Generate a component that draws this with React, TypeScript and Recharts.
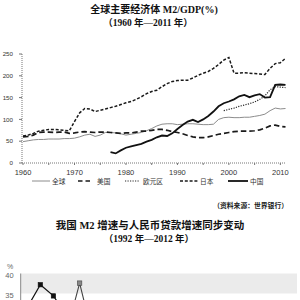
import React from "react";
import { LineChart, Line, XAxis, YAxis, ReferenceArea } from "recharts";

// 全球主要经济体 M2/GDP(%)，1960—2011
const startYear = 1960;
const globalM2 = [
  49, 51, 53, 54, 54, 55, 55, 55, 56, 56,
  57, 60, 64, 66, 61, 64, 70, 70, 69, 67,
  64, 66, 68, 70, 74, 79, 85, 89, 90, 90,
  88, 89, 90, 90, 89, 88, 88, 89, 100, 104,
  105, 104, 104, 105, 105, 107, 109, 112, 120, 126,
  124, 125,
];
const usM2 = [
  60, 61, 64, 70, 71, 71, 70, 71, 71, 68,
  69, 71, 72, 71, 70, 71, 71, 70, 69, 68,
  69, 69, 71, 73, 73, 75, 77, 77, 75, 72,
  70, 67, 63, 60, 58, 58, 60, 63, 66, 68,
  70, 72, 73, 73, 73, 74, 76, 80, 85, 87,
  84, 83,
];
const euroM2 = [
  null, null, null, null, null, null, null, null, null, null,
  null, null, null, null, null, null, null, null, null, null,
  null, null, null, null, null, null, null, null, null, null,
  null, null, null, null, null, null, null, null, null, 120,
  123, 126, 130, 133, 136, 140, 146, 154, 168, 175,
  174, 173,
];
const japanM2 = [
  62, 64, 68, 73, 75, 77, 77, 76, 75, 74,
  95, 115, 125, 124, 118, 121, 124, 127, 130, 134,
  138, 141, 146, 152, 159, 164, 167, 175, 182, 187,
  189, 190, 190, 195, 201, 206, 210, 217, 226, 236,
  242, 206, 206, 207, 206, 205, 204, 203, 217, 228,
  230, 240,
];
const chinaM2 = [
  null, null, null, null, null, null, null, null, null, null,
  null, null, null, null, null, null, null, 25, 22, 29,
  35, 38, 41, 44, 49, 53, 59, 63, 62, 68,
  78, 87, 95, 99, 94, 100, 108, 118, 130, 137,
  141, 146, 153, 156, 151, 155, 158, 150, 151, 179,
  180, 179,
];
const mainYTicks = [0, 50, 100, 150, 200, 250];
const mainXTicks = [1960, 1965, 1970, 1975, 1980, 1985, 1990, 1995, 2000, 2005, 2010];

// 我国 M2 增速与人民币贷款增速，1992—2012
const growthYears = [
  1992, 1993, 1994, 1995, 1996, 1997, 1998, 1999, 2000, 2001, 2002,
  2003, 2004, 2005, 2006, 2007, 2008, 2009, 2010, 2011, 2012,
];
const m2Growth = [
  31.5, 37.2, 34.4, 29.5, 25.3, 17.3, 15.3, 14.7, 12.3, 17.6, 16.8,
  19.6, 14.6, 17.6, 16.9, 16.7, 17.8, 27.7, 19.7, 13.6, 13.8,
];
const loanGrowth = [
  20.4, 22.5, 21.0, 25.2, 37.6, 24.3, 15.5, 13.4, 13.4, 11.6, 16.9,
  21.1, 14.4, 13.0, 15.1, 16.1, 18.8, 31.7, 19.9, 15.8, 15.0,
];
// only the top of this chart is in frame
const growthYTicks = [35, 40];

const series = [
  { key: "global", name: "全球", stroke: "#8c8c8c", width: 1, dash: undefined },
  { key: "us", name: "美国", stroke: "#1a1a1a", width: 1.7, dash: "5.5 3" },
  { key: "euro", name: "欧元区", stroke: "#2a2a2a", width: 1.2, dash: "1.2 1.3" },
  { key: "japan", name: "日本", stroke: "#1a1a1a", width: 1.5, dash: "3 1.8" },
  { key: "china", name: "中国", stroke: "#111", width: 1.8, dash: undefined },
];

const mainRows = globalM2.map((v, i) => ({
  year: startYear + i,
  global: v,
  us: usM2[i],
  euro: euroM2[i],
  japan: japanM2[i],
  china: chinaM2[i],
}));

const growthRows = growthYears.map((y, i) => ({
  year: y,
  m2: m2Growth[i],
  loan: loanGrowth[i],
}));

const cjk = "'Noto Sans CJK SC', sans-serif";
const titleFont = "'Liberation Serif', 'Noto Sans CJK SC', serif";
const tickFont = "'Liberation Sans', sans-serif";

// legend sample slots (line start, line end, text x)
const legendSlots = [
  [32, 50, 52],
  [78, 91, 97],
  [125, 140, 143],
  [180, 198, 200],
  [228, 248, 250],
];

function MainLegend() {
  return (
    <svg width={300} height={14} style={{ position: "absolute", left: 0, top: 174 }}>
      {series.map((s, i) => {
        const [x1, x2, tx] = legendSlots[i];
        return (
          <g key={s.key}>
            <line
              x1={x1}
              x2={x2}
              y1={7}
              y2={7}
              stroke={s.stroke}
              strokeWidth={s.width}
              strokeDasharray={s.key === "us" ? "4.5 3" : s.dash}
            />
            <text x={tx} y={9.5} fontSize={6.7} fill="#333" fontFamily={cjk}>
              {s.name}
            </text>
          </g>
        );
      })}
    </svg>
  );
}

const squareDot = (fill: string, stroke: string) => (props: any) => {
  const { cx, cy, index } = props;
  if (cx == null || cy == null) return <g key={`d-${index}`} />;
  return (
    <rect
      key={`d-${index}`}
      x={cx - 2.2}
      y={cy - 2.2}
      width={4.4}
      height={4.4}
      fill={fill}
      stroke={stroke}
      strokeWidth={0.6}
    />
  );
};

export default function App() {
  return (
    <div
      style={{
        position: "fixed",
        left: 0,
        top: 0,
        width: 300,
        height: 300,
        overflow: "hidden",
        background: "#fff",
      }}
    >
      <div
        style={{
          position: "absolute",
          top: 4,
          left: 4,
          width: 300,
          textAlign: "center",
          fontSize: 10,
          lineHeight: "12px",
          fontWeight: "bold",
          fontFamily: titleFont,
          color: "#111",
        }}
      >
        全球主要经济体 M2/GDP(%)
      </div>
      <div
        style={{
          position: "absolute",
          top: 17,
          left: -2,
          width: 300,
          textAlign: "center",
          fontSize: 9.5,
          lineHeight: "12px",
          fontWeight: "bold",
          fontFamily: titleFont,
          color: "#111",
        }}
      >
        （1960 年—2011 年）
      </div>

      <div style={{ position: "absolute", left: 0, top: 0 }}>
        <LineChart
          width={300}
          height={180}
          data={mainRows}
          margin={{ top: 54, right: 14.5, bottom: 5, left: 0 }}
        >
          <XAxis
            dataKey="year"
            type="number"
            domain={[1959.8, 2011]}
            ticks={mainXTicks}
            height={12}
            tickSize={2}
            tickMargin={5}
            interval={0}
            tickFormatter={(v) => (v % 10 === 0 ? String(v) : "")}
            tick={{ fontSize: 7.5, fill: "#333", fontFamily: tickFont }}
            axisLine={{ stroke: "#777", strokeDasharray: "1 1" }}
            tickLine={{ stroke: "#777" }}
          />
          <YAxis
            width={22}
            domain={[0, 250]}
            ticks={mainYTicks}
            tickSize={3}
            tickMargin={6}
            interval={0}
            tick={{ fontSize: 6.2, fill: "#333", fontFamily: tickFont }}
            axisLine={{ stroke: "#777", strokeDasharray: "1 1" }}
            tickLine={{ stroke: "#777" }}
          />
          {series.map((s) => (
            <Line
              key={s.key}
              type="linear"
              dataKey={s.key}
              name={s.name}
              stroke={s.stroke}
              strokeWidth={s.width}
              strokeDasharray={s.dash}
              dot={false}
              isAnimationActive={false}
            />
          ))}
        </LineChart>
      </div>

      <MainLegend />

      <div
        style={{
          position: "absolute",
          top: 199,
          right: 12,
          fontSize: 6.8,
          lineHeight: "12px",
          fontWeight: "bold",
          fontFamily: cjk,
          color: "#222",
        }}
      >
        （资料来源：世界银行）
      </div>

      <div
        style={{
          position: "absolute",
          top: 220,
          left: 0,
          width: 300,
          textAlign: "center",
          fontSize: 10.5,
          lineHeight: "12px",
          fontWeight: "bold",
          fontFamily: titleFont,
          color: "#111",
        }}
      >
        我国 M2 增速与人民币贷款增速同步变动
      </div>
      <div
        style={{
          position: "absolute",
          top: 233,
          left: -1,
          width: 300,
          textAlign: "center",
          fontSize: 9.5,
          lineHeight: "12px",
          fontWeight: "bold",
          fontFamily: titleFont,
          color: "#111",
        }}
      >
        （1992 年—2012 年）
      </div>

      <div
        style={{
          position: "absolute",
          top: 262,
          left: 7,
          fontSize: 7,
          lineHeight: "10px",
          fontFamily: tickFont,
          color: "#666",
        }}
      >
        %
      </div>
      <div style={{ position: "absolute", left: 0, top: 245 }}>
        <LineChart
          width={300}
          height={200}
          data={growthRows}
          margin={{ top: 28.5, right: 3, bottom: 11.5, left: 0 }}
        >
          {[
            [35, 40],
            [25, 30],
            [15, 20],
            [5, 10],
          ].map(([a, b]) => (
            <ReferenceArea key={a} y1={a} y2={b} fill="#ebebeb" fillOpacity={1} stroke="none" />
          ))}
          <XAxis dataKey="year" type="number" domain={[1991.5, 2012.6]} hide />
          <YAxis
            width={20.7}
            domain={[0, 40]}
            ticks={growthYTicks}
            interval={0}
            tickSize={0}
            tickMargin={7}
            tickLine={false}
            tick={{ fontSize: 7.5, fill: "#666", fontFamily: tickFont, dy: 2 }}
            axisLine={{ stroke: "#888" }}
          />
          <Line
            type="linear"
            dataKey="loan"
            stroke="#444"
            strokeWidth={1.1}
            dot={squareDot("#888", "#444")}
            isAnimationActive={false}
          />
          <Line
            type="linear"
            dataKey="m2"
            stroke="#111"
            strokeWidth={1.2}
            dot={squareDot("#111", "#111")}
            isAnimationActive={false}
          />
        </LineChart>
      </div>
    </div>
  );
}
